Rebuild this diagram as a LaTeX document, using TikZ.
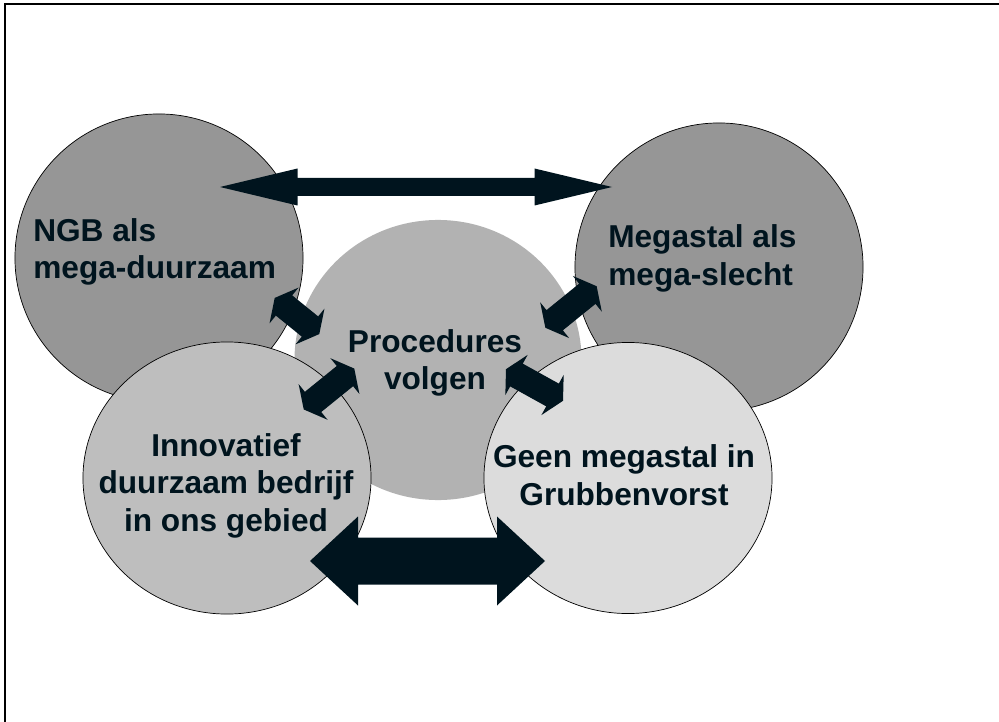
\documentclass[tikz,border=0pt]{standalone}
\usepackage{fontspec}
\setmainfont{Liberation Sans}
\usetikzlibrary{shapes.geometric}

\definecolor{ink}{RGB}{0,20,30}
\definecolor{darkdisc}{RGB}{150,150,150}
\definecolor{middisc}{RGB}{178,178,178}
\definecolor{softdisc}{RGB}{190,190,190}
\definecolor{palediscs}{RGB}{220,220,220}

% double block arrow: centre, angle, half length, head length, head half width, shaft half width
\newcommand{\blockarrow}[6]{%
  \fill[ink, shift={#1}, rotate=#2]
    (-#3,0) -- ({-#3+#4},#5) -- ({-#3+#4},#6) -- ({#3-#4},#6) -- ({#3-#4},#5)
    -- (#3,0) -- ({#3-#4},-#5) -- ({#3-#4},-#6) -- ({-#3+#4},-#6) -- ({-#3+#4},-#5) -- cycle;}

\begin{document}
\begin{tikzpicture}[
            x=0.025cm, y=-0.025cm,
            % Styles
            disc/.style={ellipse, draw=black, line width=0.5pt, inner sep=0pt},
            disctext/.style={font=\fontsize{22.5}{26.6}\selectfont\bfseries, text=ink, inner sep=0pt}
        ]
        \useasboundingbox (0,0) rectangle (999,722);
        \draw[line width=1.4pt] (5,722) -- (5,4.2) -- (999,4.2);

        % --- DISCS ---
        \node (ngb) [disc, fill=darkdisc, minimum width=7.2cm, minimum height=7.2cm] at (159,258) {};
        \node (megastal) [disc, fill=darkdisc, minimum width=7.2cm, minimum height=7.2cm] at (719,267) {};
        \node (proc) [disc, draw=none, fill=middisc, minimum width=7.175cm, minimum height=7cm] at (438,360) {};
        \node (innov) [disc, fill=softdisc, minimum width=7.2cm, minimum height=6.8cm] at (227,478) {};
        \node (geen) [disc, fill=palediscs, minimum width=7.2cm, minimum height=6.775cm] at (628,478) {};

        % --- TEXTS ---
        \node (ngbtext) [disctext, align=left, anchor=west] at (33,252) {NGB als\\mega-duurzaam};
        \node (megatext) [disctext, align=left, anchor=west] at (608,258.5) {Megastal als\\mega-slecht};
        \node (proctext) [disctext, align=center] at (435,363) {Procedures\\volgen};
        \node (innovtext) [disctext, align=center] at (226,485.5) {Innovatief\\duurzaam bedrijf\\in ons gebied};
        \node (geentext) [disctext, align=center] at (624,475) {Geen megastal in\\Grubbenvorst};

        % --- BLOCK ARROWS ---
        \blockarrow{(416,187)}{0}{196}{77.5}{18.5}{9}      % ngb <-> megastal
        \blockarrow{(427.5,561)}{0}{117.5}{48}{44.5}{23.5} % innov <-> geen
        \blockarrow{(297,316)}{-39}{28.7}{12}{23}{13}      % ngb <-> proc
        \blockarrow{(329,389)}{39}{32.5}{12}{23}{13}       % innov <-> proc
        \blockarrow{(571,307)}{39}{33}{12}{23}{13}         % megastal <-> proc
        \blockarrow{(534.5,385)}{-29}{32.6}{12}{23}{13}    % geen <-> proc

\end{tikzpicture}
\end{document}
